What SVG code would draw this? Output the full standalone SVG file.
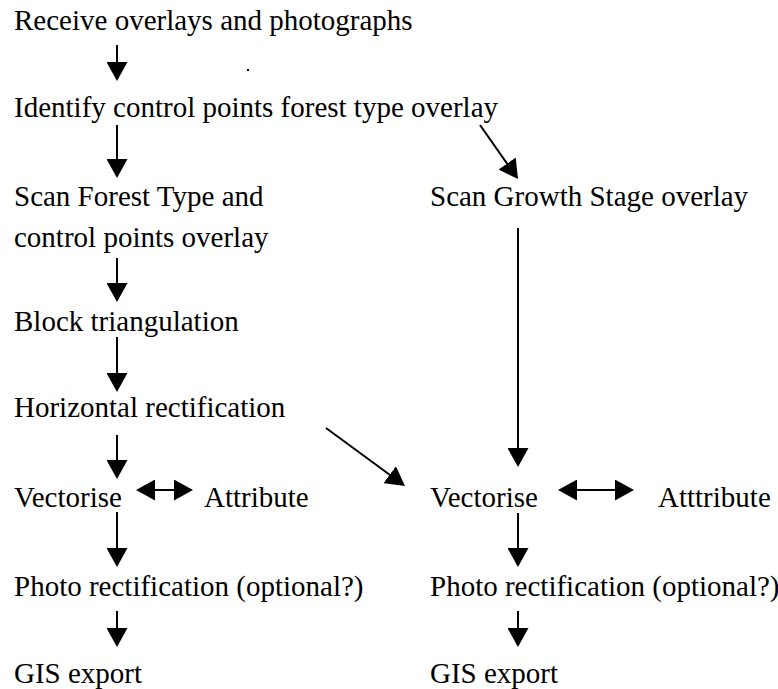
<svg xmlns="http://www.w3.org/2000/svg" width="778" height="689" viewBox="0 0 778 689">
  <style>
    .lbl { font-family: "Liberation Serif", "Times New Roman", serif; font-size: 29px; fill: #000; }
    .conn { stroke: #000; stroke-width: 2; fill: none; }
    .arr { marker-end: url(#head); }
    .dbl { marker-start: url(#head); marker-end: url(#head); }
  </style>
  <defs>
    <marker id="head" viewBox="0 0 19 21" markerUnits="userSpaceOnUse" markerWidth="19" markerHeight="21" refX="16" refY="10.5" orient="auto-start-reverse">
      <path d="M0,0 L19,10.5 L0,21 Z" fill="#000"/>
    </marker>
  </defs>
  <rect width="778" height="689" fill="#fff"/>

  <g class="lbl">
    <g id="receive"><text x="14" y="30">Receive overlays and photographs</text></g>
    <g id="identify"><text x="14" y="117">Identify control points forest type overlay</text></g>
    <g id="scan-forest"><text x="14" y="206">Scan Forest Type and</text><text x="14" y="247">control points overlay</text></g>
    <g id="scan-growth"><text x="430" y="206">Scan Growth Stage overlay</text></g>
    <g id="block"><text x="14" y="331">Block triangulation</text></g>
    <g id="horizontal"><text x="14" y="417">Horizontal rectification</text></g>
    <g id="vectorise-left"><text x="14" y="507">Vectorise</text></g>
    <g id="attribute-left"><text x="204" y="507">Attribute</text></g>
    <g id="vectorise-right"><text x="430" y="507">Vectorise</text></g>
    <g id="attribute-right"><text x="658" y="507">Atttribute</text></g>
    <g id="photo-left"><text x="14" y="596">Photo rectification (optional?)</text></g>
    <g id="photo-right"><text x="430" y="596">Photo rectification (optional?)</text></g>
    <g id="gis-left"><text x="14" y="683">GIS export</text></g>
    <g id="gis-right"><text x="430" y="683">GIS export</text></g>
  </g>
  <g id="dot"><rect x="247" y="69" width="2" height="2" fill="#000"/></g>

  <g id="connectors">
    <line class="conn arr" x1="117" y1="45" x2="117" y2="78"/>
    <line class="conn arr" x1="117" y1="125" x2="117" y2="175"/>
    <line class="conn arr" x1="117" y1="258" x2="117" y2="299"/>
    <line class="conn arr" x1="117" y1="337" x2="117" y2="389"/>
    <line class="conn arr" x1="117" y1="435" x2="117" y2="476"/>
    <line class="conn arr" x1="117" y1="512" x2="117" y2="564"/>
    <line class="conn arr" x1="117" y1="611" x2="117" y2="644"/>
    <line class="conn arr" x1="480" y1="125" x2="516.3" y2="176.6"/>
    <line class="conn arr" x1="518" y1="228" x2="518" y2="464"/>
    <line class="conn arr" x1="518" y1="513" x2="518" y2="564"/>
    <line class="conn arr" x1="518" y1="611" x2="518" y2="644"/>
    <line class="conn arr" x1="326" y1="428" x2="402.6" y2="484.2"/>
    <line class="conn dbl" x1="139" y1="490" x2="190" y2="490"/>
    <line class="conn dbl" x1="561" y1="490" x2="631" y2="490"/>
  </g>
</svg>
